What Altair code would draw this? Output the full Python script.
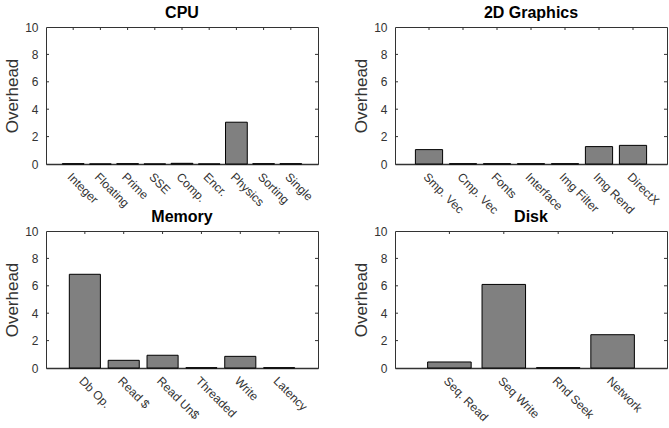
import altair as alt
import pandas as pd

cpu_cats = ["Integer", "Floating", "Prime", "SSE", "Comp.", "Encr.", "Physics", "Sorting", "Single"]
cpu_vals = [0.02, 0.0, 0.02, 0.0, 0.05, 0.0, 3.05, 0.02, 0.02]

gfx_cats = ["Smp. Vec", "Cmp. Vec", "Fonts", "Interface", "Img Filter", "Img Rend", "DirectX"]
gfx_vals = [1.05, 0.02, 0.02, 0.02, 0.02, 1.27, 1.36]

mem_cats = ["Db Op.", "Read $", "Read Un$", "Threaded", "Write", "Latency"]
mem_vals = [6.84, 0.56, 0.93, 0.02, 0.85, 0.02]

disk_cats = ["Seq. Read", "Seq Write", "Rnd Seek", "Network"]
disk_vals = [0.44, 6.1, 0.02, 2.43]

y_ticks = [0, 2, 4, 6, 8, 10]

W = 272
H = 137
FONT = "Liberation Sans"
TXT = "#333333"


def panel(title, cats, vals):
    df = pd.DataFrame({"cat": cats, "val": vals})
    tdf = pd.DataFrame({"val": y_ticks[1:-1]})
    xenc = alt.X(
        "cat:N",
        sort=cats,
        scale=alt.Scale(paddingInner=0.2, paddingOuter=0.6),
        axis=alt.Axis(
            title=None, labelAngle=45, ticks=False, domain=True,
            domainColor="#333333", domainWidth=1.5, labelPadding=7,
            labelFontSize=12, labelColor=TXT, labelFont=FONT,
        ),
    )
    yenc = alt.Y(
        "val:Q",
        scale=alt.Scale(domain=[0, 10]),
        axis=alt.Axis(
            values=y_ticks, title="Overhead", titleFontSize=17,
            titleFontWeight="normal", titleFont=FONT, titleColor=TXT,
            titlePadding=3, ticks=False, domain=False, grid=False,
            labelPadding=8, labelFontSize=12, labelColor=TXT,
            labelFont=FONT, labelOverlap=False, labelFlush=False,
        ),
    )
    bars = alt.Chart(df).mark_bar(
        color="#808080", stroke="black", strokeWidth=1
    ).encode(x=xenc, y=yenc)
    top_ticks = alt.Chart(df).mark_rule(color="#333333").encode(
        x=xenc, y=alt.value(0), y2=alt.value(3)
    )
    left_ticks = alt.Chart(tdf).mark_rule(color="#333333").encode(
        y=yenc, x=alt.value(0), x2=alt.value(3)
    )
    right_ticks = alt.Chart(tdf).mark_rule(color="#333333").encode(
        y=yenc, x=alt.value(W - 3), x2=alt.value(W)
    )
    return alt.layer(bars, top_ticks, left_ticks, right_ticks).properties(
        width=W,
        height=H,
        title=alt.TitleParams(
            title, fontSize=16, font=FONT, fontWeight="bold", offset=0,
            color="black",
        ),
    )


chart = alt.concat(
    panel("CPU", cpu_cats, cpu_vals),
    panel("2D Graphics", gfx_cats, gfx_vals),
    panel("Memory", mem_cats, mem_vals),
    panel("Disk", disk_cats, disk_vals),
    columns=2,
    spacing={"row": 67, "column": 77},
    bounds="flush",
).properties(
    padding={"left": 3, "top": 4, "right": 0, "bottom": 0}
).configure_view(stroke="#333333", strokeWidth=1)

chart.save("out.html", embed_options={"renderer": "svg", "actions": False})
